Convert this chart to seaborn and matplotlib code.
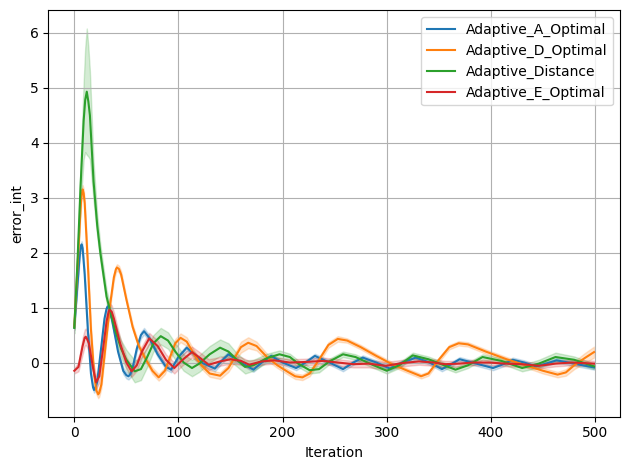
import pandas as pd
import matplotlib.pyplot as plt
import seaborn as sns

# Readings per series: (iteration, mean error_int, half band width)
a_optimal = [
    (0, 0.64, 0.05), (3, 1.4, 0.06), (5, 1.9, 0.06), (6, 2.08, 0.06), (7, 2.15, 0.06),
    (8, 2.08, 0.06), (10, 1.6, 0.06), (13, 0.6, 0.06), (16, -0.2, 0.05), (18, -0.45, 0.05),
    (19, -0.50, 0.05), (20, -0.47, 0.05), (22, -0.35, 0.05), (26, 0.3, 0.05), (29, 0.8, 0.05),
    (31, 0.98, 0.05), (32, 1.02, 0.05), (33, 0.99, 0.05), (36, 0.8, 0.05), (42, 0.2, 0.05),
    (47, -0.15, 0.06), (50, -0.23, 0.06), (52, -0.25, 0.06), (54, -0.21, 0.06), (56, -0.1, 0.06),
    (60, 0.25, 0.06), (64, 0.5, 0.06), (67, 0.57, 0.06), (72, 0.45, 0.05), (80, 0.15, 0.05),
    (88, -0.08, 0.05), (93, -0.13, 0.05), (100, 0.1, 0.05), (108, 0.27, 0.05), (115, 0.15, 0.05),
    (122, 0.0, 0.05), (135, -0.11, 0.05), (141, 0.02, 0.05), (148, 0.15, 0.05), (160, 0.0, 0.04),
    (172, -0.13, 0.04), (180, 0.0, 0.04), (189, 0.12, 0.04), (200, 0.0, 0.04), (213, -0.1, 0.04),
    (222, 0.0, 0.04), (231, 0.12, 0.04), (245, 0.0, 0.04), (258, -0.12, 0.04), (268, 0.0, 0.04),
    (277, 0.09, 0.04), (290, 0.0, 0.04), (303, -0.11, 0.04), (315, 0.0, 0.04), (328, 0.09, 0.04),
    (341, 0.0, 0.04), (353, -0.12, 0.04), (362, -0.03, 0.04), (370, 0.06, 0.04), (386, -0.02, 0.04),
    (402, -0.1, 0.04), (412, -0.03, 0.04), (421, 0.05, 0.04), (432, 0.0, 0.04), (443, -0.07, 0.04),
    (453, -0.02, 0.04), (463, 0.04, 0.04), (480, -0.02, 0.04), (499, -0.09, 0.04),
]

d_optimal = [
    (0, 0.65, 0.05), (3, 1.7, 0.06), (6, 2.8, 0.08), (7, 3.05, 0.08), (8, 3.15, 0.08),
    (9, 3.08, 0.08), (10, 2.9, 0.08), (13, 1.8, 0.08), (16, 0.6, 0.07), (19, -0.2, 0.07),
    (21, -0.5, 0.07), (23, -0.58, 0.07), (24, -0.55, 0.07), (26, -0.4, 0.07), (30, 0.3, 0.06),
    (34, 1.0, 0.06), (38, 1.55, 0.06), (40, 1.7, 0.06), (41, 1.73, 0.06), (43, 1.7, 0.06),
    (45, 1.6, 0.06), (50, 1.15, 0.05), (56, 0.65, 0.05), (62, 0.3, 0.05), (68, 0.08, 0.05),
    (75, -0.15, 0.06), (81, -0.27, 0.06), (87, -0.15, 0.06), (92, 0.1, 0.07), (97, 0.35, 0.08),
    (102, 0.45, 0.08), (108, 0.38, 0.08), (115, 0.15, 0.07), (122, -0.05, 0.06), (130, -0.2, 0.06),
    (140, -0.24, 0.06), (148, -0.1, 0.07), (155, 0.12, 0.08), (160, 0.28, 0.1), (167, 0.36, 0.1),
    (175, 0.3, 0.08), (185, 0.1, 0.06), (195, -0.05, 0.05), (205, -0.17, 0.05), (212, -0.25, 0.05),
    (219, -0.27, 0.05), (226, -0.2, 0.05), (235, 0.05, 0.05), (244, 0.32, 0.05), (253, 0.43, 0.05),
    (262, 0.4, 0.04), (275, 0.28, 0.04), (290, 0.12, 0.04), (305, -0.03, 0.04), (320, -0.15, 0.04),
    (333, -0.25, 0.04), (340, -0.2, 0.04), (350, 0.05, 0.04), (360, 0.28, 0.04), (369, 0.35, 0.04),
    (378, 0.33, 0.04), (395, 0.2, 0.04), (415, 0.06, 0.04), (435, -0.06, 0.04), (450, -0.15, 0.05),
    (464, -0.22, 0.05), (472, -0.18, 0.06), (480, -0.05, 0.07), (490, 0.08, 0.09), (499, 0.19, 0.1),
]

distance = [
    (0, 0.63, 0.1), (3, 1.8, 0.2), (6, 3.2, 0.35), (9, 4.4, 0.7), (10.5, 4.78, 0.95),
    (12, 4.93, 1.15), (13.5, 4.75, 1.0), (15, 4.5, 0.8), (18.5, 3.3, 0.35), (22, 2.5, 0.2),
    (25, 2.0, 0.15), (31, 1.2, 0.12), (39, 0.6, 0.12), (45, 0.25, 0.15), (50, 0.05, 0.18),
    (58, -0.16, 0.2), (64, -0.12, 0.2), (70, 0.1, 0.18), (76, 0.35, 0.15), (83, 0.48, 0.15),
    (90, 0.4, 0.15), (97, 0.2, 0.15), (105, 0.0, 0.15), (113, -0.1, 0.15), (120, -0.02, 0.15),
    (130, 0.15, 0.15), (140, 0.27, 0.15), (148, 0.2, 0.15), (156, 0.05, 0.12), (164, -0.08, 0.12),
    (172, -0.05, 0.1), (185, 0.08, 0.08), (197, 0.15, 0.07), (207, 0.1, 0.06), (215, -0.02, 0.06),
    (226, -0.14, 0.06), (235, -0.12, 0.06), (245, 0.02, 0.05), (258, 0.15, 0.05), (270, 0.1, 0.05),
    (285, -0.03, 0.05), (300, -0.15, 0.05), (312, -0.05, 0.05), (325, 0.13, 0.05), (340, 0.06, 0.05),
    (355, -0.05, 0.05), (366, -0.13, 0.05), (378, -0.05, 0.05), (392, 0.1, 0.05), (410, 0.03, 0.05),
    (430, -0.1, 0.06), (446, -0.02, 0.07), (462, 0.1, 0.08), (480, 0.05, 0.06), (499, -0.07, 0.05),
]

e_optimal = [
    (0, -0.15, 0.05), (4, -0.08, 0.08), (8, 0.3, 0.15), (10, 0.45, 0.15), (11, 0.47, 0.15),
    (12, 0.44, 0.15), (14, 0.35, 0.15), (18, -0.1, 0.12), (21, -0.36, 0.12), (24, -0.25, 0.12),
    (28, 0.3, 0.12), (31, 0.75, 0.12), (33, 0.93, 0.12), (34, 0.96, 0.12), (36, 0.92, 0.12),
    (38, 0.8, 0.12), (44, 0.35, 0.1), (50, 0.0, 0.1), (55, -0.16, 0.1), (60, -0.05, 0.1),
    (65, 0.2, 0.1), (72, 0.44, 0.1), (80, 0.3, 0.1), (88, 0.05, 0.1), (96, -0.1, 0.1),
    (104, 0.05, 0.1), (113, 0.19, 0.1), (121, 0.08, 0.1), (129, -0.04, 0.1), (140, 0.02, 0.08),
    (150, 0.06, 0.08), (160, 0.03, 0.07), (168, -0.04, 0.07), (180, 0.02, 0.06), (192, 0.04, 0.06),
    (207, 0.0, 0.06), (222, 0.01, 0.06), (239, 0.03, 0.06), (253, 0.0, 0.06), (268, -0.03, 0.06),
    (283, -0.02, 0.07), (299, -0.06, 0.07), (315, -0.01, 0.06), (331, 0.02, 0.06), (345, 0.0, 0.06),
    (356, -0.03, 0.06), (370, -0.02, 0.05), (382, 0.0, 0.05), (398, 0.0, 0.05), (414, -0.02, 0.05),
    (430, -0.03, 0.05), (446, -0.06, 0.05), (462, -0.02, 0.05), (478, 0.0, 0.05), (499, -0.02, 0.05),
]

series = {
    'Adaptive_A_Optimal': a_optimal,
    'Adaptive_D_Optimal': d_optimal,
    'Adaptive_Distance': distance,
    'Adaptive_E_Optimal': e_optimal,
}

# three "runs" per point so the band spans mean +- half width
rows = []
for name, pts in series.items():
    for it, val, band in pts:
        for v in (val - band, val, val + band):
            rows.append({'Iteration': it, 'error_int': v, 'Algorithm': name})
df = pd.DataFrame(rows)

plt.figure(figsize=(6.4, 4.8), dpi=100)
sns.lineplot(data=df, x='Iteration', y='error_int', hue='Algorithm',
             errorbar=lambda v: (v.min(), v.max()))
plt.legend(loc='upper right')
plt.grid(True)
plt.tight_layout()
plt.savefig('out.png', dpi=100, bbox_inches='tight')
